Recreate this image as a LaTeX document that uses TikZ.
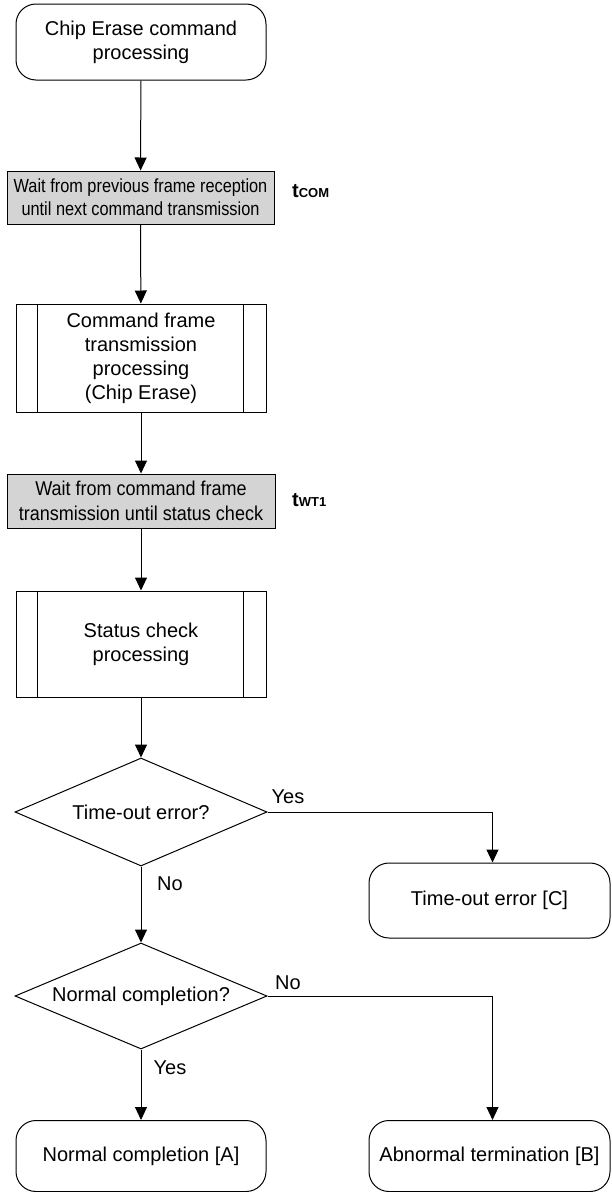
\documentclass[tikz,border=0pt]{standalone}
\usepackage{fontspec}
\setmainfont{Liberation Sans}
\newfontfamily\narrowA[FakeStretch=0.86]{Liberation Sans}
\newfontfamily\narrowB[FakeStretch=0.9]{Liberation Sans}
\usetikzlibrary{shapes.geometric,arrows.meta}
\definecolor{boxgray}{RGB}{212,212,212}
\begin{document}
\begin{tikzpicture}[x=1pt,y=-1pt,
  base/.style={draw,line width=1pt,align=center,inner sep=0pt,font=\fontsize{20}{24}\selectfont},
  term/.style={base,rounded corners=20pt,minimum width=250pt,minimum height=76pt},
  graybox/.style={base,fill=boxgray},
  subbox/.style={base,minimum width=250pt,minimum height=106pt},
  decision/.style={base,diamond,aspect=2.3,minimum width=252pt,minimum height=107pt},
  arr/.style={-{Triangle[width=12pt,length=13pt]},line width=1pt},
  lbl/.style={font=\fontsize{20}{24}\selectfont,inner sep=0pt},
  tlbl/.style={font=\bfseries\fontsize{20}{24}\selectfont,inner sep=0pt,anchor=west}
]
\useasboundingbox (0,0) rectangle (611,1192);

\node[term] (start) at (141,42) {Chip Erase command\\processing};

\node[graybox,minimum width=267pt,minimum height=53pt,font=\narrowA\fontsize{19}{23}\selectfont] (g1) at (140.5,197.5)
  {Wait from previous frame reception\\until next command transmission};
\node[tlbl] (tcom) at (292,191) {t\fontsize{13}{13}\selectfont COM};

\node[subbox,minimum height=108pt] (cmd) at (141,358) {Command frame\\transmission\\processing\\(Chip Erase)};
\draw[line width=1pt] ([xshift=22pt]cmd.north west) -- ([xshift=22pt]cmd.south west);
\draw[line width=1pt] ([xshift=-23pt]cmd.north east) -- ([xshift=-23pt]cmd.south east);

\node[graybox,minimum width=268pt,minimum height=54pt,font=\narrowB\fontsize{20}{24.5}\selectfont] (g2) at (141,501)
  {Wait from command frame\\transmission until status check};
\node[tlbl] (twt) at (292,500) {t\fontsize{13}{13}\selectfont WT1};

\node[subbox] (stat) at (141,644) {Status check\\processing};
\draw[line width=1pt] ([xshift=22pt]stat.north west) -- ([xshift=22pt]stat.south west);
\draw[line width=1pt] ([xshift=-23pt]stat.north east) -- ([xshift=-23pt]stat.south east);

\node[decision,minimum height=108pt] (d1) at (141,812) {Time-out error?};
\node[decision,minimum height=106pt] (d2) at (141,996) {Normal completion?};

\node[term,minimum width=241pt,minimum height=75pt] (tout) at (489.5,900.5) {Time-out error [C]};
\node[term,minimum height=71pt] (norm) at (141,1156) {Normal completion [A]};
\node[term,minimum width=241pt,minimum height=71pt] (abn) at (489.5,1156) {Abnormal termination [B]};

\draw[arr] (start) -- (g1);
\draw[arr] (g1) -- (cmd);
\draw[arr] (cmd) -- (g2);
\draw[arr] (g2) -- (stat);
\draw[arr] (stat) -- (d1);
\draw[arr] (d1.east) -| ([xshift=3pt]tout.north);
\draw[arr] (d1.south) -- (d2.north);
\draw[arr] (d2.east) -| ([xshift=3pt]abn.north);
\draw[arr] (d2.south) -- (norm.north);

\node[lbl] (yes1) at (288,797) {Yes};
\node[lbl] (no1) at (170,884) {No};
\node[lbl] (no2) at (288,983) {No};
\node[lbl] (yes2) at (170,1068) {Yes};
\end{tikzpicture}
\end{document}
